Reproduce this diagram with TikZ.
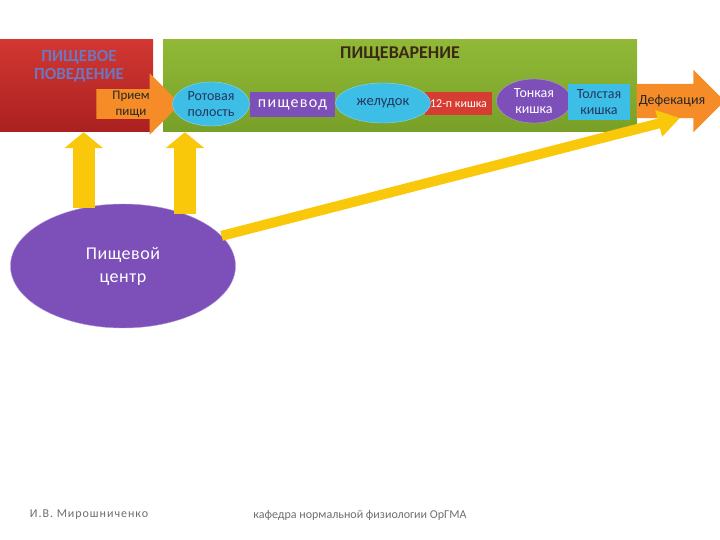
\documentclass[tikz,border=0pt]{standalone}
\usepackage{fontspec}
\setmainfont{Carlito}
\usetikzlibrary{positioning, arrows.meta, shapes.geometric, shapes.arrows}
\definecolor{Krasn}{RGB}{210,55,50}
\definecolor{KrasnT}{RGB}{170,32,32}
\definecolor{Zelen}{RGB}{145,185,55}
\definecolor{ZelenT}{RGB}{120,160,40}
\definecolor{Goluboy}{RGB}{60,190,230}
\definecolor{Fiolet}{RGB}{125,80,185}
\definecolor{Oranzh}{RGB}{245,140,40}
\definecolor{Zholt}{RGB}{250,200,10}
\definecolor{TekstT}{RGB}{35,55,95}
\definecolor{Sery}{RGB}{110,110,110}

\begin{document}
\begin{tikzpicture}[
  x=1pt, y=-1pt,
  font=\fontsize{14}{16}\selectfont,
  blok/.style={rectangle, minimum width=#1, inner sep=0pt},
  ovl/.style={ellipse, inner sep=0pt, align=center},
  polosa/.style={rectangle, inner sep=0pt, align=center},
  strelka/.style={single arrow, fill=Oranzh, align=center,
                  inner xsep=2pt, inner ysep=1.5pt,
                  single arrow head extend=16pt, text=black!85},
  yarr/.style={draw=Zholt, line width=#1},
  zag/.style={font=\bfseries\fontsize{17}{19}\selectfont, align=center}
]
\useasboundingbox (0,0) rectangle (720,540);

% fon
\node[blok=153pt, minimum height=92pt, top color=Krasn, bottom color=KrasnT]
  (povedenie) at (76.5,86) {};
\node[blok=474pt, minimum height=92pt, top color=Zelen, bottom color=ZelenT]
  (pishch) at (400,86) {};
\node[zag, text={rgb,255:red,110;green,118;blue,190}] (povtitle) at (79,66)
  {ПИЩЕВОЕ\\[-1pt]ПОВЕДЕНИЕ};
\node[zag, font=\bfseries\fontsize{18}{20}\selectfont,
      text={rgb,255:red,60;green,40;blue,20}] (pishtitle) at (400,54)
  {ПИЩЕВАРЕНИЕ};

% tsepochka
\node[strelka, minimum height=84pt, font=\fontsize{13}{16}\selectfont]
  (priem) at (131,104) {Прием\\пищи};
\node[polosa, fill=Fiolet, minimum width=85pt, minimum height=25pt,
      text=white, font=\fontsize{16}{18}\selectfont\addfontfeature{LetterSpace=8}]
  (pishchevod) at (292.5,104.5) {пищевод};
\node[ovl, fill=Goluboy, draw=Goluboy!60!white, minimum width=77pt,
      minimum height=44pt, text=TekstT] (rot) at (211,104) {Ротовая\\полость};
\node[polosa, fill={rgb,255:red,215;green,60;blue,50}, minimum width=67pt,
      minimum height=23pt, text=white, font=\fontsize{12}{14}\selectfont]
  (kishka12) at (458.5,103.5) {12-п кишка};
\node[ovl, fill=Goluboy, draw=Goluboy!60!white, minimum width=95pt,
      minimum height=40pt, text=TekstT, font=\fontsize{14.5}{16}\selectfont]
  (zheludok) at (383,103) {желудок};
\node[ovl, fill=Fiolet, draw=Fiolet!60!white, minimum width=75pt,
      minimum height=44pt, text=white] (tonk) at (534,101) {Тонкая\\кишка};
\node[strelka, minimum height=88pt, single arrow head extend=14pt,
      inner ysep=11pt, font=\fontsize{14}{16}\selectfont]
  (defek) at (672,101) {Дефекация};
\node[polosa, fill=Goluboy, minimum width=62pt, minimum height=36pt,
      text=TekstT] (tolst) at (599,102) {Толстая\\кишка};

% tsentr
\node[ovl, fill=Fiolet, draw=Fiolet!60!white, minimum width=225pt,
      minimum height=124pt, text=white,
      font=\fontsize{18}{23}\selectfont\addfontfeature{LetterSpace=3}]
  (centr) at (123,266) {Пищевой\\центр};

\coordinate (defcel) at (680,118);
\draw[yarr=22pt, -{Triangle[length=16pt, width=38pt]}]
  (centr.124) -- (centr.124 |- povedenie.south);
\draw[yarr=22pt, -{Triangle[length=16pt, width=38pt]}]
  (centr.40) -- (centr.40 |- povedenie.south);
\draw[yarr=10pt, -{Triangle[length=22pt, width=26pt]}]
  (centr.17) -- (defcel);

% podpisi
\node[text=Sery, font=\fontsize{12}{14}\selectfont\addfontfeature{LetterSpace=8}]
  (avtor) at (89,515) {И.В. Мирошниченко};
\node[text=Sery, font=\fontsize{12}{14}\selectfont] (kafedra) at (360,515)
  {кафедра нормальной физиологии ОрГМА};
\end{tikzpicture}
\end{document}
